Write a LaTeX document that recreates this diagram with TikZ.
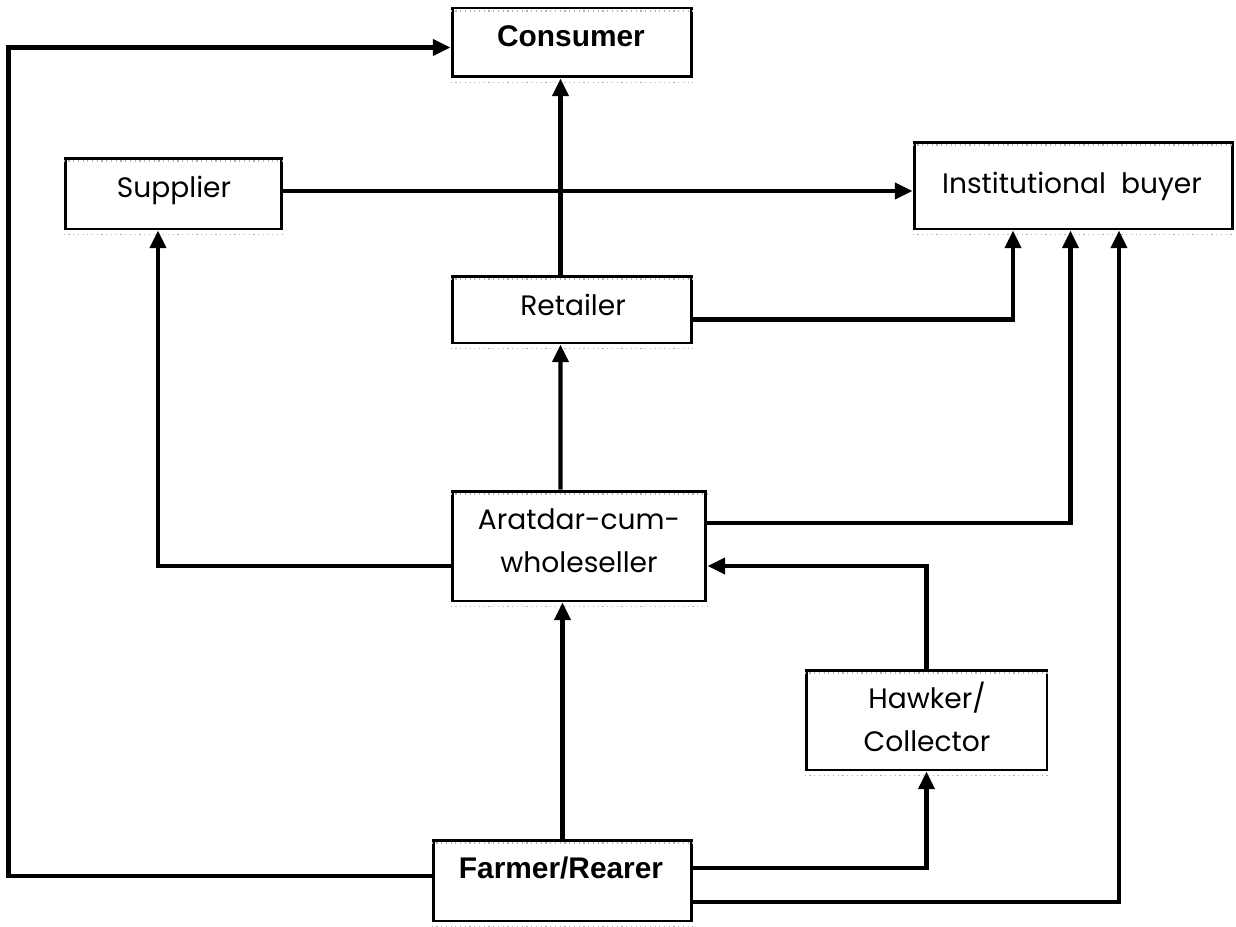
\documentclass[tikz,border=0pt]{standalone}
\usepackage{fontspec}
\setmainfont{Poppins}
\newfontfamily\arialf{Liberation Sans}
\usetikzlibrary{arrows.meta}
\tikzset{
  box/.style={draw, line width=1.7pt, fill=white, inner sep=0pt},
  lbl/.style={font=\fontsize{16}{24}\selectfont, align=center, inner sep=0pt, anchor=base},
  blbl/.style={font=\arialf\bfseries\fontsize{17}{20}\selectfont, inner sep=0pt, anchor=base},
  arr/.style={line width=2.4pt, -{Triangle[length=10pt,width=9pt]}},
  shade/.style={draw=gray!60, line width=0.7pt, dotted}
}
\begin{document}
\begin{tikzpicture}[x=0.02cm,y=-0.02cm]
\useasboundingbox (0,0) rectangle (1236,926);
% boxes
\node[box, minimum width=4.8cm, minimum height=1.38cm] (consumer) at (572,42.5) {};
\node[box, minimum width=4.34cm, minimum height=1.42cm] (supplier) at (173.5,193.5) {};
\node[box, minimum width=6.38cm, minimum height=1.74cm] (inst) at (1073.5,185.5) {};
\node[box, minimum width=4.8cm, minimum height=1.34cm] (retailer) at (572,309.5) {};
\node[box, minimum width=5.08cm, minimum height=2.2cm] (arat) at (579,546) {};
\node[box, minimum width=4.82cm, minimum height=2.0cm] (hawker) at (926.5,720) {};
\node[box, minimum width=5.18cm, minimum height=1.62cm] (farmer) at (562.5,880.5) {};
% grey shading lines
\foreach \b in {consumer,supplier,inst,retailer,arat,hawker,farmer}{
  \draw[shade] ([yshift=-0.09cm]\b.north west) -- ([yshift=-0.09cm]\b.north east);
  \draw[shade] ([yshift=-0.08cm]\b.south west) -- ([yshift=-0.08cm]\b.south east);
}
% labels
\node[blbl] (tconsumer) at (571,47) {Consumer};
\node[lbl] (tsupplier) at (174,197) {Supplier};
\node[lbl] (tinst) at (1072,193) {Institutional\ \ buyer};
\node[lbl] (tretailer) at (573,315) {Retailer};
\node[lbl] (tarat) at (579,572) {Aratdar-cum-\\wholeseller};
\node[lbl] (thawker) at (927,751) {Hawker/\\Collector};
\node[blbl] (tfarmer) at (561,878) {Farmer/Rearer};
% connectors
\draw[arr] ([yshift=0.09cm]farmer.west) -- ++(-423,0) |- ([yshift=-0.1cm]consumer.west);
\draw[arr] (farmer.north) -- (farmer.north |- arat.south);
\draw[arr] ([yshift=0.25cm]farmer.east) -| (hawker.south);
\draw[arr] ([yshift=-0.43cm]farmer.east) -| ([xshift=0.91cm]inst.south);
\draw[arr] (hawker.north) |- ([yshift=-0.4cm]arat.east);
\draw[arr] ([yshift=-0.4cm]arat.west) -| ([xshift=-0.31cm]supplier.south);
\draw[arr] ([yshift=0.46cm]arat.east) -| ([xshift=-0.06cm]inst.south);
\draw[arr] ([xshift=-0.37cm]arat.north) -- ([xshift=-0.23cm]retailer.south);
\draw[arr] ([yshift=-0.2cm]retailer.east) -| ([xshift=-1.21cm]inst.south);
\draw[arr] ([xshift=-0.23cm]retailer.north) -- ([xshift=-0.23cm]retailer.north |- consumer.south);
\draw[arr] ([yshift=0.05cm]supplier.east) -- ([yshift=0.05cm]supplier.east -| inst.west);
\end{tikzpicture}
\end{document}
